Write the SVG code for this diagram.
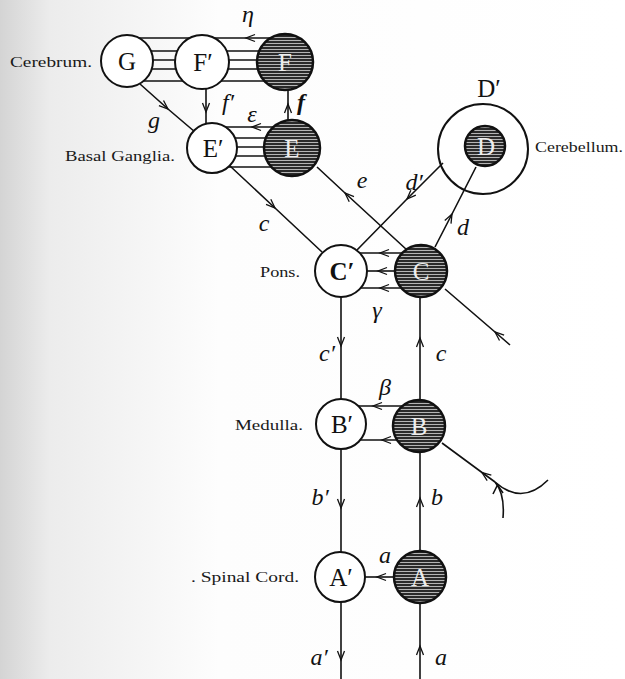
<svg xmlns="http://www.w3.org/2000/svg" width="625" height="679" viewBox="0 0 625 679">
<defs>
  <linearGradient id="bg" x1="0" y1="0" x2="1" y2="0">
    <stop offset="0" stop-color="#d4d4d4"/>
    <stop offset="0.08" stop-color="#ececec"/>
    <stop offset="0.35" stop-color="#fdfdfd"/>
    <stop offset="1" stop-color="#ffffff"/>
  </linearGradient>
  <pattern id="hatch" patternUnits="userSpaceOnUse" width="6" height="3">
    <rect width="6" height="3" fill="#2a2a2a"/>
    <line x1="0" y1="1.5" x2="6" y2="1.5" stroke="#c4c4c4" stroke-width="0.9"/>
  </pattern>
  <marker id="ah" viewBox="-11 -6 13 12" markerWidth="13" markerHeight="12" refX="0" refY="0" orient="auto" markerUnits="userSpaceOnUse">
    <path d="M-9,-3.5 L0,0 L-9,3.5" fill="none" stroke="#111" stroke-width="1.3"/>
  </marker>
  <style>
    .w { fill: #fff; stroke: #111; stroke-width: 2; }
    .k { fill: url(#hatch); stroke: #111; stroke-width: 2.5; }
    .ln { fill: none; stroke: #111; stroke-width: 1.6; }
    .ar { fill: none; stroke: #111; stroke-width: 1.6; marker-mid: url(#ah); }
    .nl { font-family: "Liberation Serif", "DejaVu Serif", serif; font-size: 25px; text-anchor: middle; fill: #111; }
    .dl { font-family: "Liberation Serif", "DejaVu Serif", serif; font-size: 25px; text-anchor: middle; fill: #eeeeee; }
    .rg { font-family: "Liberation Serif", "DejaVu Serif", serif; font-size: 15px; fill: #1a1a1a; }
    .sc { font-family: "Liberation Serif", "DejaVu Serif", serif; font-style: italic; font-size: 24px; text-anchor: middle; fill: #111; }
  </style>
</defs>
<rect width="625" height="679" fill="url(#bg)"/>

<g id="labels">
  <text class="rg" x="10" y="67" textLength="82" lengthAdjust="spacingAndGlyphs">Cerebrum.</text>
  <text class="rg" x="65" y="161" textLength="110" lengthAdjust="spacingAndGlyphs">Basal Ganglia.</text>
  <text class="rg" x="260" y="277" textLength="40" lengthAdjust="spacingAndGlyphs">Pons.</text>
  <text class="rg" x="235" y="430" textLength="68" lengthAdjust="spacingAndGlyphs">Medulla.</text>
  <text class="rg" x="191" y="582" textLength="108" lengthAdjust="spacingAndGlyphs">. Spinal Cord.</text>
  <text class="rg" x="535" y="152" textLength="88" lengthAdjust="spacingAndGlyphs">Cerebellum.</text>
</g>

<g id="node-Dp">
  <circle class="w" cx="483" cy="149" r="45"/>
  <text class="nl" x="489" y="97" font-size="26">D′</text>
</g>

<g id="connectors">
  <polyline class="ar" points="285,38 246,38 127,38"/>
  <line class="ln" x1="127" y1="51" x2="285" y2="51"/>
  <line class="ln" x1="127" y1="60" x2="285" y2="60"/>
  <line class="ln" x1="127" y1="69" x2="285" y2="69"/>
  <line class="ln" x1="127" y1="81" x2="285" y2="81"/>
  <polyline class="ar" points="206,89 206,112 206,124"/>
  <polyline class="ar" points="288,120 288,104 288,90"/>
  <polyline class="ar" points="292,127 252,127 212,127"/>
  <line class="ln" x1="212" y1="138" x2="292" y2="138"/>
  <line class="ln" x1="212" y1="147" x2="292" y2="147"/>
  <line class="ln" x1="212" y1="156" x2="292" y2="156"/>
  <line class="ln" x1="212" y1="167" x2="292" y2="167"/>
  <polyline class="ar" points="140,84 168,109 195,132"/>
  <polyline class="ar" points="230,166 275,208 322,252"/>
  <polyline class="ar" points="407,250 345,193 317,167"/>
  <polyline class="ar" points="510,345 495,332 445,289"/>
  <polyline class="ar" points="443,163 407,199 357,250"/>
  <polyline class="ar" points="435,247 452,214 476,167"/>
  <polyline class="ar" points="402,253 380,253 360,253"/>
  <polyline class="ar" points="396,271 378,271 367,271"/>
  <polyline class="ar" points="401,288 380,288 361,288"/>
  <polyline class="ar" points="402,406 373,406 358,406"/>
  <polyline class="ar" points="397,440 382,440 360,440"/>
  <polyline class="ar" points="394,577 377,577 365,577"/>
  <polyline class="ar" points="341,297 341,346 341,399"/>
  <polyline class="ar" points="420,400 420,338 420,297"/>
  <polyline class="ar" points="341,449 341,508 341,552"/>
  <polyline class="ar" points="420,552 420,498 420,452"/>
  <polyline class="ar" points="341,602 341,660 341,679"/>
  <polyline class="ar" points="420,679 420,646 420,603"/>
  <polyline class="ar" points="495,482 482,472.5 442,443"/>
  <path class="ln" d="M495,482 Q505,494 503,518"/>
  <path class="ln" d="M495,482 Q522,506 548,480"/>
  <path class="ln" d="M493,494 L497.5,485 L503,493"/>
</g>

<g id="node-G"><circle class="w" cx="127" cy="61" r="26"/><text class="nl" x="127" y="70">G</text></g>
<g id="node-Fp"><circle class="w" cx="202" cy="62" r="27"/><text class="nl" x="203" y="71">F′</text></g>
<g id="node-F"><circle class="k" cx="285" cy="62" r="28"/><text class="dl" x="285" y="71">F</text></g>
<g id="node-Ep"><circle class="w" cx="212" cy="148" r="25"/><text class="nl" x="213" y="157">E′</text></g>
<g id="node-E"><circle class="k" cx="292" cy="148" r="28"/><text class="dl" x="292" y="157">E</text></g>
<g id="node-D"><circle class="k" cx="485" cy="146" r="20"/><text class="dl" x="486" y="155">D</text></g>
<g id="node-Cp"><circle class="w" cx="341" cy="271" r="26"/><text class="nl" x="342" y="280" font-weight="bold">C′</text></g>
<g id="node-C"><circle class="k" cx="421" cy="271" r="26"/><text class="dl" x="421" y="280">C</text></g>
<g id="node-Bp"><circle class="w" cx="341" cy="424" r="25"/><text class="nl" x="342" y="433">B′</text></g>
<g id="node-B"><circle class="k" cx="419" cy="426" r="26"/><text class="dl" x="419" y="435">B</text></g>
<g id="node-Ap"><circle class="w" cx="340" cy="577" r="25"/><text class="nl" x="341" y="586">A′</text></g>
<g id="node-A"><circle class="k" cx="420" cy="577" r="26"/><text class="dl" x="420" y="586">A</text></g>

<g id="connector-labels">
  <text class="sc" x="248" y="22" font-size="20">η</text>
  <text class="sc" x="228" y="110">f′</text>
  <text class="sc" x="301" y="110" font-weight="bold">f</text>
  <text class="sc" x="252" y="122" font-size="18">ε</text>
  <text class="sc" x="154" y="128">g</text>
  <text class="sc" x="362" y="188">e</text>
  <text class="sc" x="264" y="231">c</text>
  <text class="sc" x="414" y="190">d′</text>
  <text class="sc" x="463" y="235">d</text>
  <text class="sc" x="377" y="318">γ</text>
  <text class="sc" x="327" y="361">c′</text>
  <text class="sc" x="441" y="361">c</text>
  <text class="sc" x="385" y="395" font-size="18">β</text>
  <text class="sc" x="320" y="505">b′</text>
  <text class="sc" x="437" y="505">b</text>
  <text class="sc" x="385" y="563">a</text>
  <text class="sc" x="319" y="665">a′</text>
  <text class="sc" x="441" y="665">a</text>
</g>
</svg>
